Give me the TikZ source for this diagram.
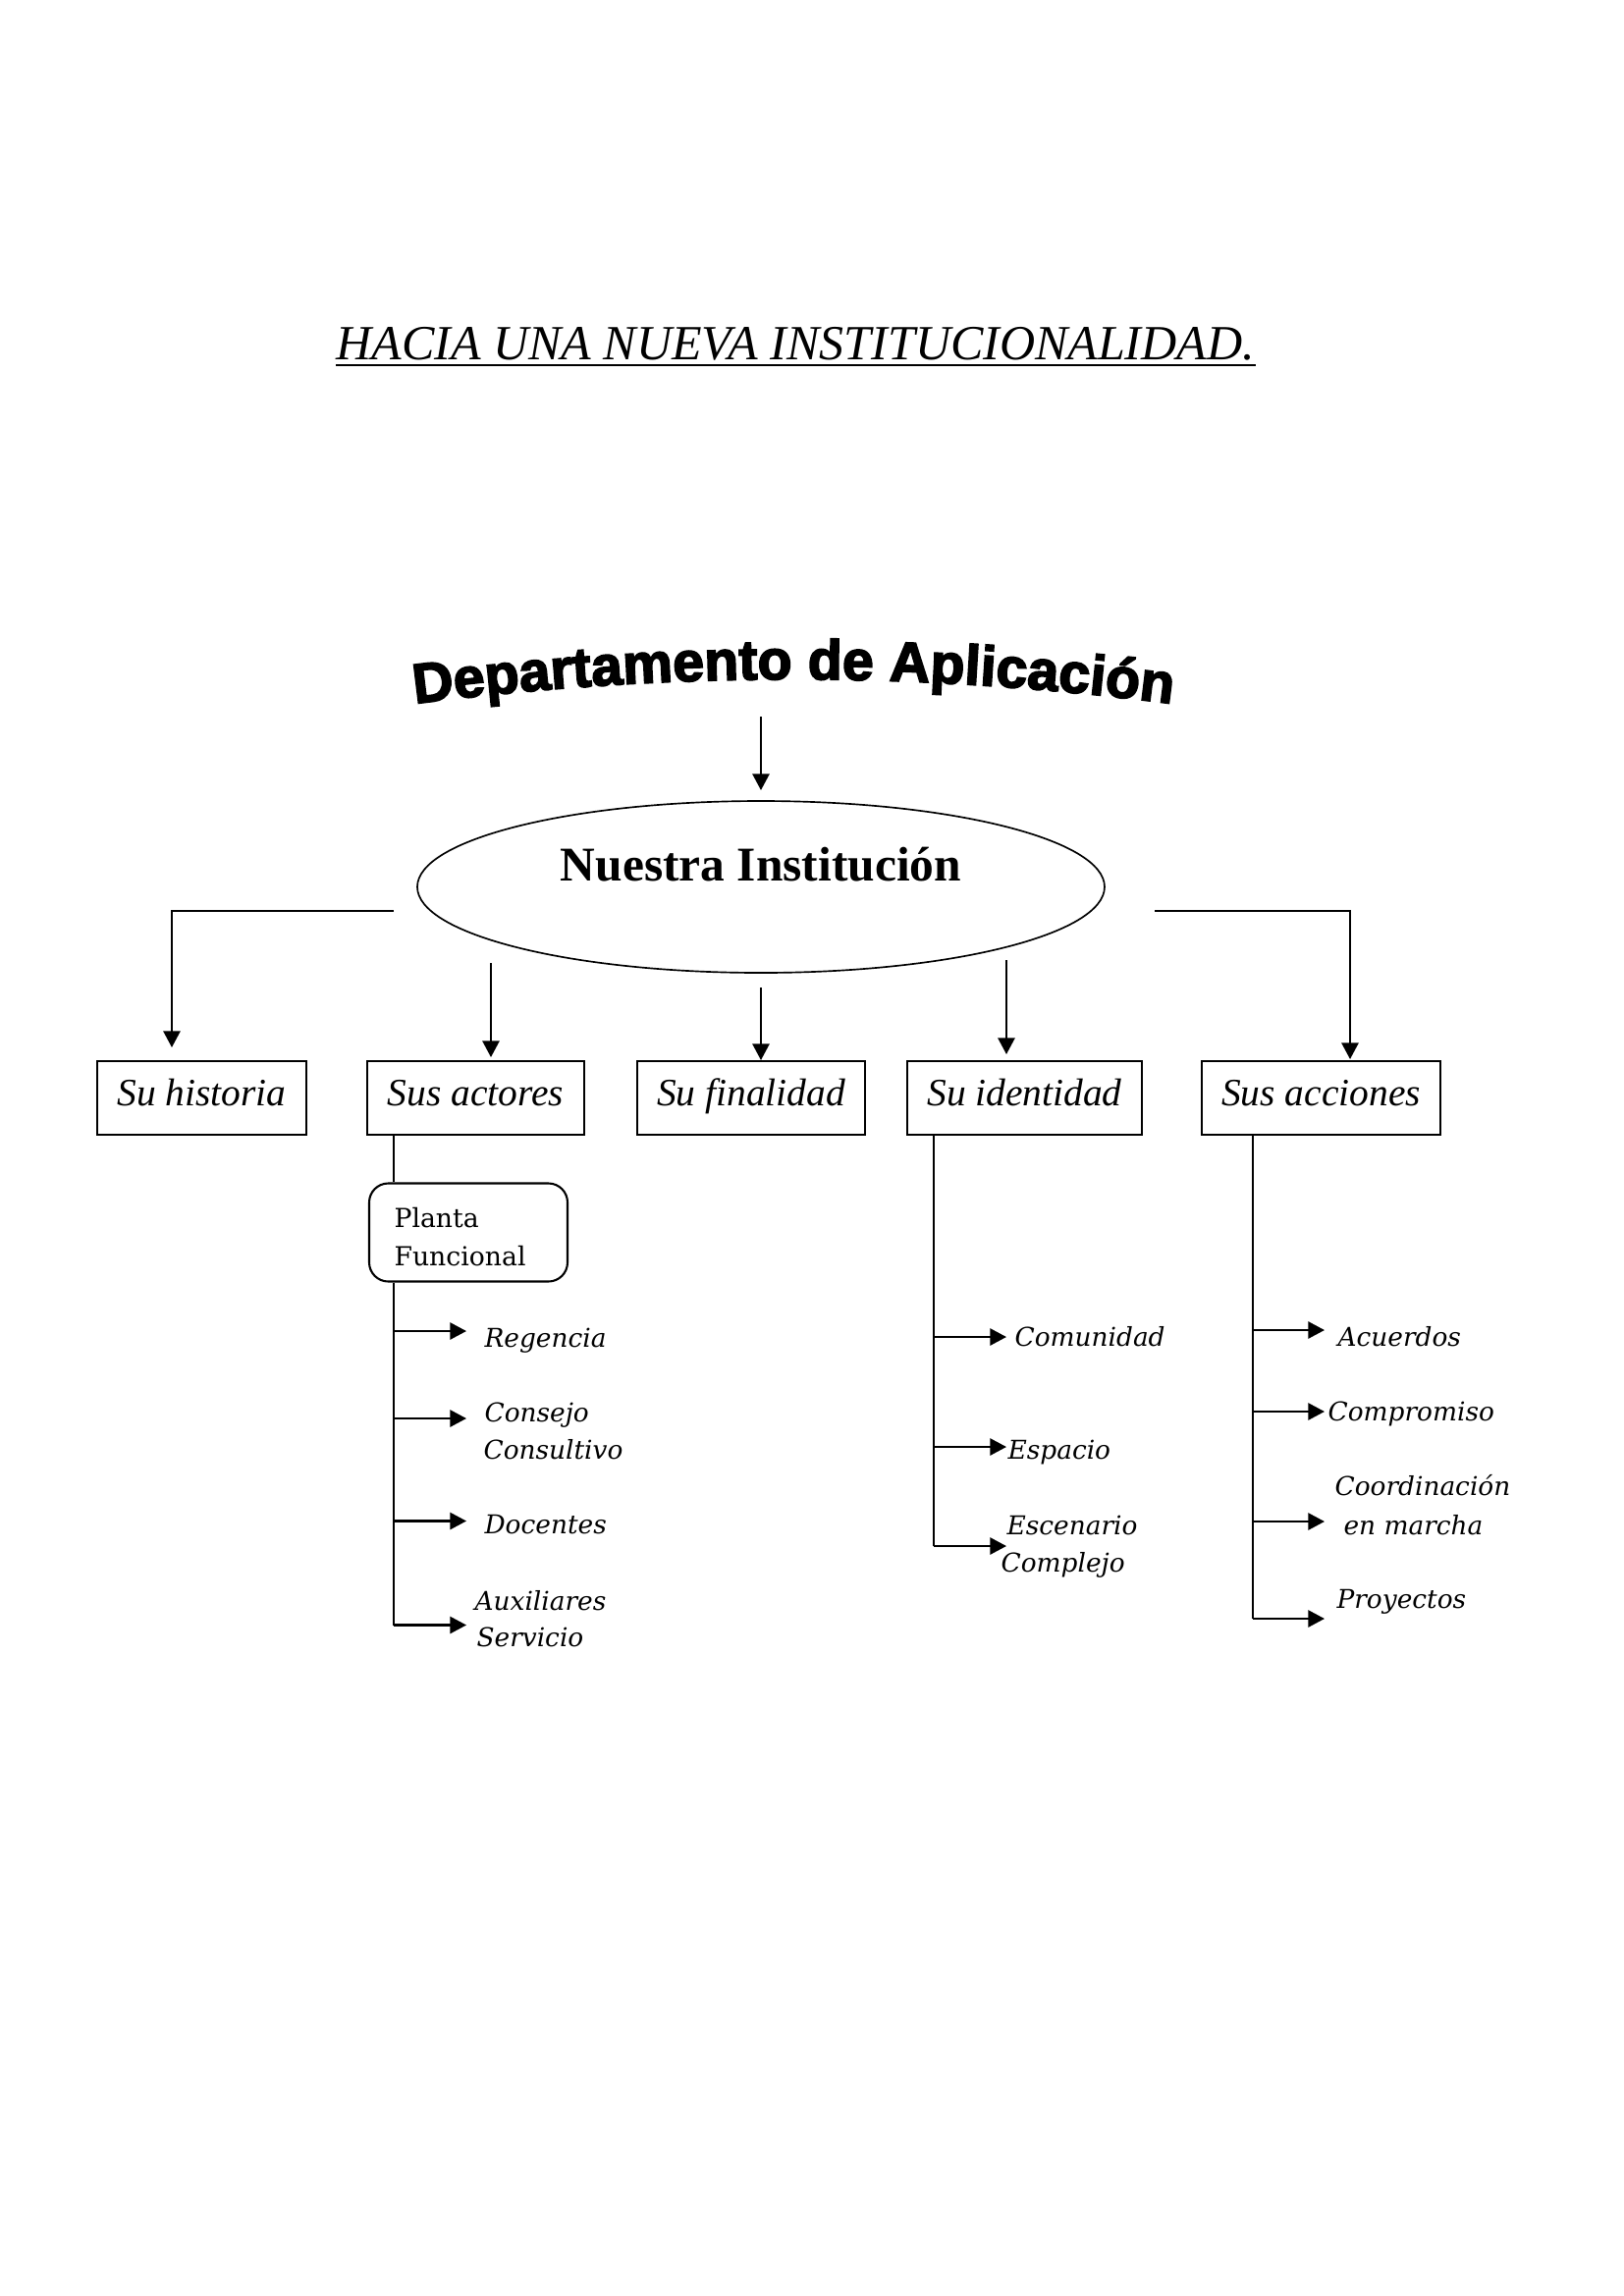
\documentclass[tikz,border=0pt]{standalone}
\usepackage{fontspec}
\setmainfont{Liberation Serif}
\newfontfamily\lblfont{DejaVu Serif}
\newfontfamily\wafont[FakeBold=3]{Liberation Sans Bold}
\usetikzlibrary{arrows.meta,shapes.geometric,decorations.text}
\newcommand\PX{0.3599pt}
\begin{document}
\begin{tikzpicture}[x=0.3599pt,y=-0.3599pt,
  ln/.style={line width=0.75pt},
  arr/.style={line width=0.75pt,-{Triangle[length=6pt,width=6.2pt]}},
  topbox/.style={draw,line width=0.75pt,minimum height={75*\PX},inner sep=0pt,
    text height=9pt,text depth=2.9pt,font=\fontsize{14.2}{17}\selectfont\itshape},
  lbl/.style={anchor=base west,inner sep=0pt,font=\lblfont\fontsize{9.5}{12}\selectfont\itshape},
  plbl/.style={anchor=base west,inner sep=0pt,font=\lblfont\fontsize{9.6}{12}\selectfont},
]
\useasboundingbox (0,0) rectangle (1654,2339);

% title
\node[anchor=base west,inner sep=0pt,font=\fontsize{18}{22}\selectfont\itshape] (title) at (342,366) {HACIA UNA NUEVA INSTITUCIONALIDAD.};
\draw[line width=0.75pt] ([yshift=-2.2pt]title.base west) -- ([yshift=-2.2pt]title.base east);

% arched word art
\path[decorate,decoration={text along path,text align=center,
  text={|\wafont\fontsize{20.6}{24}\selectfont|Departamento de Aplicación}}]
  (808,3692) ++(-102:3000) arc[start angle=-102,end angle=-78,radius=3000];

% ellipse
\node[draw,ellipse,line width=0.6pt,minimum width={700*\PX},minimum height={175*\PX},inner sep=0pt] (inst) at (775,903.5) {};
\node[anchor=base,inner sep=0pt,font=\bfseries\fontsize{17.8}{21}\selectfont] (insttxt) at (775,897) {Nuestra Institución};

% top boxes
\node[topbox,minimum width={213*\PX}] (hist) at (205.5,1118.5) {Su historia};
\node[topbox,minimum width={221*\PX}] (act) at (484.5,1118.5) {Sus actores};
\node[topbox,minimum width={232*\PX}] (fin) at (765,1118.5) {Su finalidad};
\node[topbox,minimum width={239*\PX}] (ide) at (1043.5,1118.5) {Su identidad};
\node[topbox,minimum width={243*\PX}] (acc) at (1345.5,1118.5) {Sus acciones};

% connectors from top
\coordinate (d0) at (775,730); \coordinate (d1) at (775,805);
\draw[arr] (d0) -- (d1);
\coordinate (l0) at (401,928); \coordinate (l1) at (175,928); \coordinate (l2) at (175,1067);
\draw[arr] (l0) -- (l1) -- (l2);
\coordinate (r0) at (1176,928); \coordinate (r1) at (1375,928); \coordinate (r2) at (1375,1079);
\draw[arr] (r0) -- (r1) -- (r2);
\coordinate (a0) at (500,981); \coordinate (a1) at (500,1077);
\draw[arr] (a0) -- (a1);
\coordinate (f0) at (775,1006); \coordinate (f1) at (775,1080);
\draw[arr] (f0) -- (f1);
\coordinate (i0) at (1025,978); \coordinate (i1) at (1025,1074);
\draw[arr] (i0) -- (i1);

% planta funcional
\node[draw,line width=0.75pt,rounded corners=7pt,minimum width={202*\PX},minimum height={100*\PX},inner sep=0pt] (planta) at (477,1255.5) {};
\node[plbl] (planta1) at (401,1250) {Planta};
\node[plbl] (planta2) at (401,1289) {Funcional};

\coordinate (xa) at (401,0);
\coordinate (xi) at (951,0);
\coordinate (xc) at (1276,0);
\draw[ln] (act.south -| xa) -- (planta.north -| xa);

% actores branches
\foreach \n/\y in {1/1356,2/1445,3/1549.5,4/1655.5}{
  \coordinate (ab\n) at (401,\y); \coordinate (at\n) at (475,\y);
  \draw[arr] (ab\n) -- (at\n);
}
\draw[ln] (planta.south -| xa) -- (ab4);
\node[lbl] (reg) at (493,1372) {Regencia};
\node[lbl] (cons1) at (493,1448) {Consejo};
\node[lbl] (cons2) at (492,1486) {Consultivo};
\node[lbl] (doc) at (493,1562.5) {Docentes};
\node[lbl] (aux1) at (483,1640) {Auxiliares};
\node[lbl] (aux2) at (485,1677) {Servicio};

% identidad branches
\foreach \n/\y in {1/1362,2/1474,3/1575}{
  \coordinate (ib\n) at (951,\y); \coordinate (it\n) at (1025,\y);
  \draw[arr] (ib\n) -- (it\n);
}
\draw[ln] (ide.south -| xi) -- (ib3);
\node[lbl] (com) at (1033,1371) {Comunidad};
\node[lbl] (esp) at (1026,1486) {Espacio};
\node[lbl] (esc1) at (1025,1563) {Escenario};
\node[lbl] (esc2) at (1019,1601) {Complejo};

% acciones branches
\foreach \n/\y in {1/1355,2/1438,3/1550,4/1649}{
  \coordinate (cb\n) at (1276,\y); \coordinate (ct\n) at (1349,\y);
  \draw[arr] (cb\n) -- (ct\n);
}
\draw[ln] (acc.south -| xc) -- (cb4);
\node[lbl] (acu) at (1362,1371.5) {Acuerdos};
\node[lbl] (comp) at (1352,1447.5) {Compromiso};
\node[lbl] (coor1) at (1359,1523.5) {Coordinación};
\node[lbl] (coor2) at (1368,1563) {en marcha};
\node[lbl] (proy) at (1361,1638.5) {Proyectos};
\end{tikzpicture}
\end{document}
